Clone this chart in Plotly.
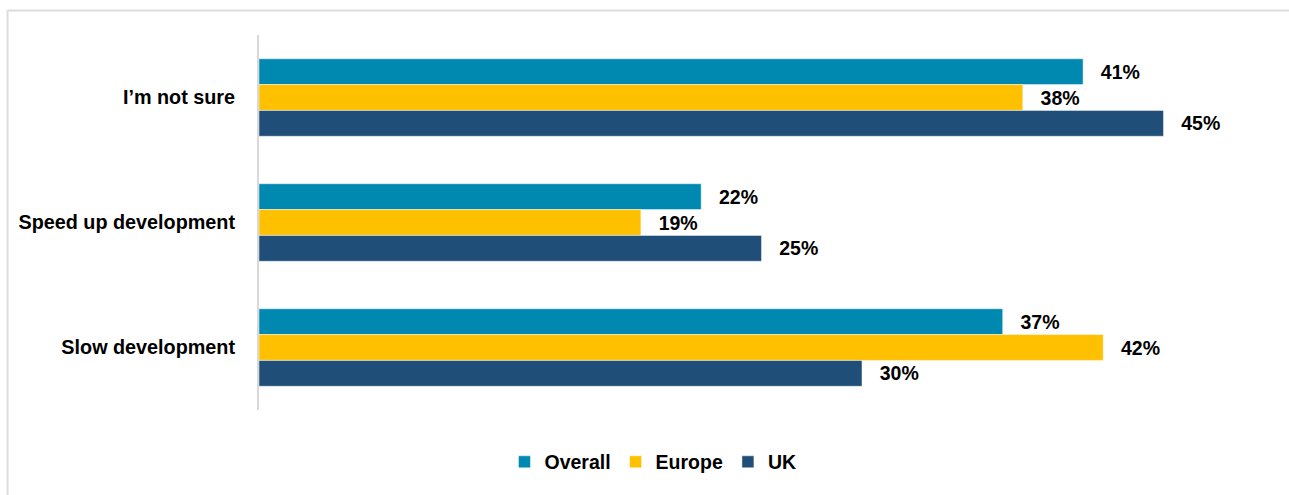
import plotly.graph_objects as go

# Survey responses (% of respondents)
categories = ["I’m not sure", "Speed up development", "Slow development"]
series_names = ["Overall", "Europe", "UK"]
overall = [41, 22, 37]
europe = [38, 19, 42]
uk = [45, 25, 30]

colors = {"Overall": "#0089B0", "Europe": "#FFC000", "UK": "#1F4E79"}
FONT = "Liberation Sans, Arial, sans-serif"

fig = go.Figure()
for name, vals in zip(series_names, [overall, europe, uk]):
    fig.add_trace(go.Bar(
        name=name,
        y=categories,
        x=vals,
        orientation="h",
        marker=dict(color=colors[name], line=dict(color="rgba(255,255,255,0.6)", width=0.8)),
        text=[f"{v}%" for v in vals],
        texttemplate="\u00a0\u00a0\u2009%{text}",
        textposition="outside",
        textfont=dict(family=FONT, size=19.5, color="#000000", weight="bold"),
        constraintext="none",
        cliponaxis=False,
    ))

# Light frame along the left and top edges of the chart area
frame = dict(type="line", xref="paper", yref="paper",
             line=dict(color="#DCDCDC", width=2), layer="below")
fig.add_shape(**frame, x0=-0.2502, x1=-0.2502, y0=1.0653, y1=-0.25)
fig.add_shape(**frame, x0=-0.2502, x1=1.03, y0=1.0653, y1=1.0653)

fig.update_layout(
    width=1289, height=495,
    margin=dict(l=259, r=25, t=35, b=85),
    paper_bgcolor="white", plot_bgcolor="white",
    barmode="group", bargap=0.38, bargroupgap=0,
    font=dict(family=FONT, size=19.5, color="#000000"),
    showlegend=True,
    legend=dict(
        orientation="h", x=0.392, xanchor="center", y=-0.139, yanchor="middle",
        font=dict(family=FONT, size=19.5, color="#000000", weight="bold"),
        traceorder="normal", itemclick=False,
    ),
    xaxis=dict(range=[0, 50], showgrid=False, zeroline=False, showline=False,
               showticklabels=False, ticks=""),
    yaxis=dict(autorange="reversed", showgrid=False, zeroline=False,
               showline=True, linecolor="#D9D9D9", linewidth=2, ticks="",
               ticklabelstandoff=18,
               tickfont=dict(family=FONT, size=19.8, color="#000000", weight="bold")),
)

fig.write_html("out.html")
